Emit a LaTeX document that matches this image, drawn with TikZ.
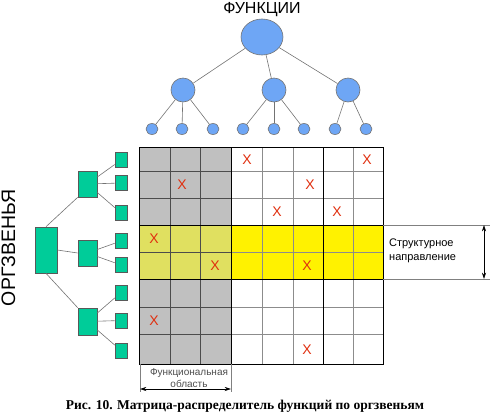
\documentclass[tikz,border=0pt]{standalone}
\usepackage{fontspec}
\setmainfont{Liberation Sans}
\newfontfamily\capfont{Liberation Serif}
\usetikzlibrary{arrows.meta,shapes.geometric}
\definecolor{fnblue}{HTML}{6EA6F5}
\definecolor{orggreen}{HTML}{00CC99}
\definecolor{cellgray}{HTML}{C0C0C0}
\definecolor{bandolive}{HTML}{E0E060}
\definecolor{markred}{HTML}{E03010}

\begin{document}
\begin{tikzpicture}[x=1pt,y=-1pt,
  fn/.style={ellipse,draw=black!55,fill=fnblue,inner sep=0pt,line width=0.6pt},
  org/.style={rectangle,draw=black!65,fill=orggreen,inner sep=0pt,line width=0.6pt},
  link/.style={draw=black!55,line width=0.6pt},
  xmark/.style={text=markred,font=\fontsize{14}{14}\selectfont,inner sep=0pt},
  gridline/.style={draw=black!45,line width=0.8pt},
  darkline/.style={draw=black!70,line width=0.8pt},
  heavy/.style={draw=black,line width=1pt},
  dimline/.style={draw=black!50,line width=0.6pt},
  dimarrow/.style={{Stealth[length=2.2mm,width=1.4mm]}-{Stealth[length=2.2mm,width=1.4mm]},line width=0.6pt,draw=black}
]
\useasboundingbox (0,0) rectangle (490,413);

% functions tree
\node[font=\fontsize{16}{16}\selectfont,anchor=base] (fntitle) at (262,13) {ФУНКЦИИ};
\node[fn,minimum width=42pt,minimum height=36pt] (f0) at (262,37) {};
\node[fn,minimum width=24pt,minimum height=24pt] (f1) at (183,90) {};
\node[fn,minimum width=24pt,minimum height=24pt] (f2) at (274,90) {};
\node[fn,minimum width=24pt,minimum height=24pt] (f3) at (348,90) {};
\foreach \x [count=\i] in {152,182,213,243,274,304,335,366}
  \node[fn,minimum width=12pt,minimum height=11pt] (fl\i) at (\x,129) {};
\foreach \k in {1,2,3} \draw[link] (f0) -- (f\k);
\foreach \i in {1,2,3} \draw[link] (f1) -- (fl\i);
\foreach \i in {4,5,6} \draw[link] (f2) -- (fl\i);
\foreach \i in {7,8} \draw[link] (f3) -- (fl\i);

% org units tree
\node[rotate=90,anchor=base,font=\fontsize{19.5}{19.5}\selectfont] (orgtitle) at (15,248) {ОРГЗВЕНЬЯ};
\node[org,minimum width=22pt,minimum height=46pt] (o0) at (46,250) {};
\node[org,minimum width=19pt,minimum height=26pt] (o1) at (87.5,184) {};
\node[org,minimum width=19pt,minimum height=26pt] (o2) at (87.5,253) {};
\node[org,minimum width=19pt,minimum height=27pt] (o3) at (87.5,321.5) {};
\foreach \y [count=\i] in {160,183,213,241,265,292.5,320.5,350.5}
  \node[org,minimum width=12pt,minimum height=15pt] (ol\i) at (121,\y) {};
\draw[link] (o0.north) -- (o1.south west);
\draw[link] (o0.east) -- (o2.west);
\draw[link] (o0.south) -- (o3.north west);
\foreach \i in {1,2,3} \draw[link] (o1) -- (ol\i);
\foreach \i in {4,5} \draw[link] (o2) -- (ol\i);
\foreach \i in {6,7,8} \draw[link] (o3) -- (ol\i);

% matrix
\fill[cellgray] (139,147) rectangle (231,364);
\fill[bandolive] (139,225) rectangle (231,279);
\fill[yellow] (231,225) rectangle (383,279);
\foreach \x in {170,200} \draw[darkline] (\x,147) -- (\x,364);
\foreach \x in {262,293,353} \draw[gridline] (\x,147) -- (\x,364);
\foreach \y in {171,198,252,307,334} {
  \draw[darkline] (139,\y) -- (231,\y);
  \draw[gridline] (231,\y) -- (383,\y);
}
\draw[heavy] (139,147) rectangle (383,364);
\draw[heavy] (231,147) -- (231,364);
\draw[heavy] (323,147) -- (323,364);
\draw[heavy] (139,225) -- (383,225);
\draw[heavy] (139,279) -- (383,279);

\foreach \px/\py [count=\i] in {247/160,367/160,182/185,310/185,277/212,337/212,154/239,215/266,307/266,154/321,307/350}
  \node[xmark] (x\i) at (\px,\py) {X};

% structural direction
\coordinate (stop) at (484,225);
\coordinate (sbot) at (484,279);
\draw[dimline] (383,225) -- (490,225);
\draw[dimline] (383,279) -- (490,279);
\draw[dimarrow] (stop) -- (sbot);
\node[anchor=west,align=left,inner sep=0pt,font=\fontsize{11}{14}\selectfont] (strlabel) at (389,251) {Структурное\\направление};

% functional area
\coordinate (fleft) at (140,389);
\coordinate (fright) at (231,389);
\draw[dimline] (140,364) -- (140,392);
\draw[dimline] (231,364) -- (231,392);
\draw[dimarrow] (fleft) -- (fright);
\node[align=center,inner sep=0pt,text=black!70,font=\fontsize{10}{12.5}\selectfont,anchor=south] (funlabel) at (189,388) {Функциональная\\область};

% caption
\node[anchor=base,font=\capfont\bfseries\fontsize{13.5}{13.5}\selectfont] (caption) at (245,409) {Рис. 10. Матрица-распределитель функций по оргзвеньям};
\end{tikzpicture}
\end{document}
